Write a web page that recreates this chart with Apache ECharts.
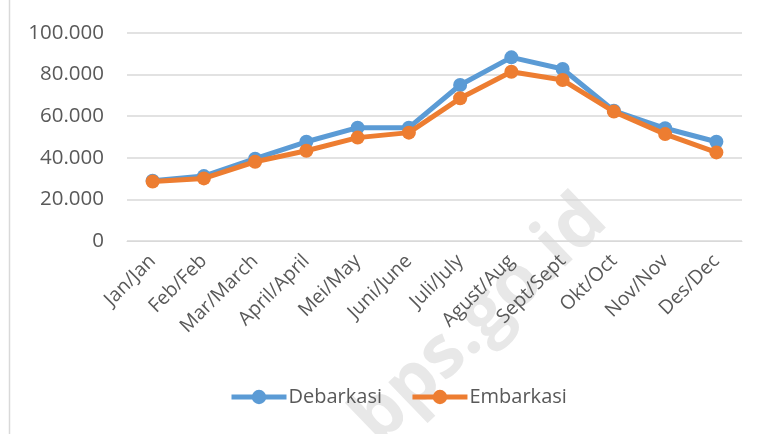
<!DOCTYPE html>
<html>
<head>
<meta charset="utf-8">
<script src="https://cdn.jsdelivr.net/npm/echarts@6/dist/echarts.min.js"></script>
<style>
  html, body { margin: 0; padding: 0; background: #fff; }
  #chart { width: 764px; height: 434px; }
</style>
</head>
<body>
<div id="chart"></div>
<script>
// months (Indonesian/English)
const months = ['Jan/Jan', 'Feb/Feb', 'Mar/March', 'April/April', 'Mei/May', 'Juni/June',
  'Juli/July', 'Agust/Aug', 'Sept/Sept', 'Okt/Oct', 'Nov/Nov', 'Des/Dec'];

const debarkasi = [29000, 31200, 39600, 47700, 54500, 54500, 75000, 88300, 82700, 62600, 54200, 47700];
const embarkasi = [28600, 30100, 38100, 43400, 49700, 52100, 68600, 81400, 77400, 62200, 51400, 42600];

const yTicks = [0, 20000, 40000, 60000, 80000, 100000];

const font = '"Open Sans", "Liberation Sans", sans-serif';

const chart = echarts.init(document.getElementById('chart'));

const option = {
    animation: false,
    backgroundColor: '#fff',
    grid: { left: 127, right: 22, top: 33, bottom: 193 },
    legend: {
        data: ['Debarkasi', 'Embarkasi'],
        top: 382,
        left: 224,
        itemWidth: 55,
        itemHeight: 18,
        itemGap: 28,
        lineStyle: { width: 5 },
        textStyle: { color: '#595959', fontSize: 20, fontFamily: font, padding: [0, 0, 0, -3] }
    },
    xAxis: {
        type: 'category',
        data: months,
        boundaryGap: true,
        axisLine: { show: true, lineStyle: { color: '#d9d9d9', width: 1 } },
        axisTick: { show: false },
        axisLabel: { rotate: 45, color: '#595959', fontSize: 19.5, fontFamily: font, margin: 17 }
    },
    yAxis: {
        type: 'value',
        min: 0,
        max: yTicks[yTicks.length - 1],
        interval: 20000,
        axisLine: { show: false },
        axisTick: { show: false },
        splitLine: { lineStyle: { color: '#d9d9d9', width: 1.5 } },
        axisLabel: {
            color: '#595959', fontSize: 20.5, fontFamily: font, margin: 23,
            formatter: v => v === 0 ? '0' : v.toLocaleString('de-DE', { minimumFractionDigits: 0 })
        }
    },
    series: [
        {
            name: 'Debarkasi',
            type: 'line',
            data: debarkasi,
            symbol: 'circle',
            symbolSize: 14,
            color: '#5b9bd5',
            lineStyle: { width: 5, color: '#5b9bd5' },
            itemStyle: { color: '#5b9bd5' },
            z: 2
        },
        {
            name: 'Embarkasi',
            type: 'line',
            data: embarkasi,
            symbol: 'circle',
            symbolSize: 14,
            color: '#ed7d31',
            lineStyle: { width: 5, color: '#ed7d31' },
            itemStyle: { color: '#ed7d31' },
            z: 3
        }
    ],
    graphic: [
        {
            type: 'line',
            shape: { x1: 9.5, y1: 0, x2: 9.5, y2: 434 },
            style: { stroke: '#d9d9d9', lineWidth: 1.5 },
            silent: true
        },
        {
            type: 'text',
            x: 480, y: 320,
            rotation: Math.PI / 4.1,
            z: -10,
            style: {
                text: 'bps.go.id',
                font: 'bold 72px "Open Sans", "Liberation Sans", sans-serif',
                fill: '#e8e8e8',
                align: 'center',
                verticalAlign: 'middle'
            },
            silent: true
        }
    ]
};

chart.setOption(option);
</script>
</body>
</html>
